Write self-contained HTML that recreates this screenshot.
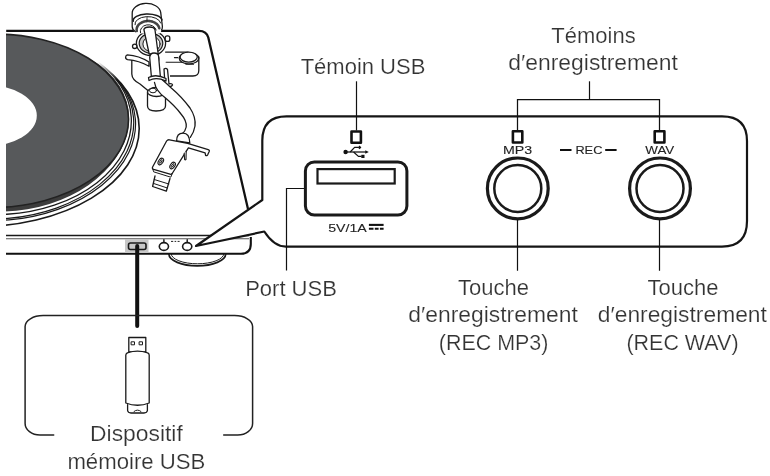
<!DOCTYPE html>
<html><head><meta charset="utf-8">
<style>
html,body{margin:0;padding:0;background:#fff;}
body{width:770px;height:476px;overflow:hidden;position:relative;}
svg{position:absolute;left:0;top:0;display:block;will-change:transform;}
text{font-family:"Liberation Sans",sans-serif;fill:#333;stroke:#fff;stroke-width:0.2px;paint-order:normal;}
text.sm{fill:#222;stroke:#222;stroke-width:0.1px;}
</style></head><body>
<svg width="770" height="476" viewBox="0 0 770 476">
<g fill="none" stroke="#1a1a1a" stroke-linecap="round" stroke-linejoin="round">

<!-- ===== Turntable ===== -->
<!-- record -->
<defs>
<linearGradient id="lg" gradientUnits="userSpaceOnUse" x1="97" y1="63" x2="116" y2="81"><stop offset="0" stop-color="#000"/><stop offset="1" stop-color="#fff"/></linearGradient>
<mask id="lm" maskUnits="userSpaceOnUse" x="0" y="0" width="260" height="260"><rect x="0" y="0" width="260" height="260" fill="url(#lg)" stroke="none"/></mask>
</defs>
<g mask="url(#lm)">
<ellipse cx="-23.83" cy="128.49" rx="163.04" ry="98.42" stroke-width="1.6"/>
<ellipse cx="1.27" cy="130.33" rx="134.57" ry="89.96" transform="rotate(-4.94 1.27 130.33)" stroke-width="1.2"/>
<ellipse cx="0.63" cy="128.58" rx="133.33" ry="90.07" transform="rotate(-4.66 0.63 128.58)" stroke-width="1.2"/>
<ellipse cx="1.65" cy="124.99" rx="129.82" ry="89.42" transform="rotate(-3.40 1.65 124.99)" stroke-width="1.3"/>
</g>
<ellipse cx="13.73" cy="127.71" rx="116.08" ry="82.76" transform="rotate(-9.53 13.73 127.71)" fill="#3c3c3c" stroke="none"/>
<ellipse cx="-6.72" cy="120.8" rx="135.25" ry="86.7" transform="rotate(-0.87 -6.72 120.8)" fill="#57595b" stroke="#222" stroke-width="1.6"/>
<ellipse cx="-15" cy="115.7" rx="51.8" ry="31" fill="#fff" stroke="none"/>
<rect x="0" y="0" width="6" height="260" fill="#fff" stroke="none"/>

<!-- plinth outline -->
<path d="M6.2 30.8 H199 Q206.5 30.8 208.3 37.5 L248 209" stroke-width="2.3" stroke="#111" stroke-linecap="butt"/>
<path d="M6 235.5 H249" stroke-width="1.3" stroke-linecap="butt"/>
<path d="M6 238.7 H249" stroke-width="1.1" stroke="#555" stroke-linecap="butt"/>
<path d="M6 253.8 H241 Q250.8 253.6 250.8 244 V237" stroke-width="2.1" stroke="#111" stroke-linecap="butt"/>

<!-- foot -->
<path d="M168.9 254 A28.4 11.8 0 0 0 225.7 254" stroke-width="1.7"/>
<path d="M171.2 254 A26.3 9.8 0 0 0 223.8 254" stroke-width="1"/>

<!-- front strip usb -->
<rect x="125" y="239" width="23.5" height="14" fill="#c8c8c8" stroke="none"/>
<rect x="128.5" y="243" width="17.5" height="6.5" rx="2" stroke-width="1.6"/>
<!-- knobs -->
<ellipse cx="163.9" cy="246.5" rx="4.6" ry="3.9" stroke-width="1.6"/>
<ellipse cx="187.2" cy="246.5" rx="4.6" ry="3.9" stroke-width="1.6"/>
<path d="M163.9 239.8 V242 M187.2 239.8 V242" stroke-width="1.4" stroke="#111"/>
<path d="M171 241.4 h2.2 M174.6 241.4 h1.6 M177.6 241.4 h2" stroke-width="1" stroke="#222" stroke-linecap="butt"/>

<!-- cable -->
<path d="M137.2 246 V326" stroke="#111" stroke-width="4"/>

<!-- ===== Tonearm ===== -->
<g stroke-width="1.3" fill="#fff">
<!-- right block with dial -->
<path d="M163 52.1 H192 Q198.8 52.1 198.8 58 V70 Q198.8 76 192.9 76 H163 Z" stroke="none"/>
<path d="M165.6 52.1 H188 M198.8 57 V70.5 Q198.8 76 192.9 76 H168" fill="none" stroke-width="1.3"/>
<path d="M166 62.2 H185.3 L186 64.3 H193.5" fill="none" stroke-width="1.1"/>
<ellipse cx="189" cy="58.3" rx="9.8" ry="5.6" stroke-width="1.3"/>
<ellipse cx="188.7" cy="57.1" rx="8.6" ry="5" stroke-width="1.2"/>
<path d="M174.4 57.6 h3.4" fill="none" stroke-width="1.1"/>
<!-- base left block -->
<path d="M131.8 60 V74 Q132 80 140 84 L148 90 V100 H165 V88 L170 80 V64 L150 58 Z" stroke="none"/>
<path d="M131.8 60 V74 Q132 80 140 84 L148.5 91" fill="none"/>
<!-- arm rest post -->
<path d="M147.5 92 V106 Q147.5 111 156 111 Q165.5 111 165.5 106 V92"/>
<ellipse cx="156.5" cy="92" rx="9" ry="4.5"/>
<ellipse cx="153" cy="90.5" rx="3.5" ry="2.3" stroke-width="1"/>
<!-- lift lever -->
<path d="M127.3 54.8 Q139 55.5 149 62 L149 66.3 Q139 60.5 127.6 59.6 Q125.4 59 125.6 57 Q126 54.8 127.3 54.8 Z" stroke-width="1.3"/>
<!-- gimbal ring -->
<ellipse cx="151" cy="43.3" rx="14.6" ry="12.3" stroke-width="1.3"/>
<ellipse cx="151" cy="43.3" rx="11.8" ry="10" stroke-width="1.2" fill="#c8c8c8"/>
<ellipse cx="151.5" cy="44" rx="8.6" ry="7.6" stroke-width="1" fill="#fff"/>
<path d="M157.9 55 Q160 59 157.9 62.7" fill="none" stroke-width="1.1"/>
<circle cx="134.7" cy="46.3" r="2.2"/>
<rect x="165.2" y="35.8" width="4.6" height="5.6" rx="2"/>
<!-- counterweight -->
<path d="M132.2 26.5 V14 Q132.8 4 146.5 4 Q160.2 4 160.7 12.4 L162.4 26.5 Q162.4 30 160 33.5 L135.5 33.5 Q132.2 30 132.2 26.5 Z" stroke="none"/>
<path d="M135.5 31.8 Q132.2 30 132.2 26.5 V14 A14.3 10 0 0 1 160.7 12.4 L162.4 26.5 Q162.4 29 161.5 30" fill="none" stroke-width="1.3"/>
<path d="M133.3 21.2 A14.4 6.5 0 0 1 162 19.9" fill="none" stroke-width="1.5"/>
<path d="M135 24.7 A12.9 7.2 0 0 1 160.7 23" fill="none" stroke-width="1"/>
<path d="M136.8 31 A11.3 8.5 0 0 1 159.3 28.2" fill="none" stroke-width="2.6" stroke="#444" stroke-dasharray="0.7 0.6"/>
<path d="M140.4 32.7 A8 6.5 0 0 1 156.2 30" fill="none" stroke-width="1"/>
<path d="M147 17 V21" fill="none" stroke-width="0.8"/>
<!-- tube rear -->
<path d="M143.9 29.5 Q144.5 27 149.5 27 Q154.5 27 155 30 L158.2 54 H149.2 Z"/>
<!-- tube front segment -->
<path d="M149.7 57.5 Q150 53 154 53 Q158.4 53 158.6 56.5 L160.5 78 H151.5 Z"/>
<!-- clip -->
<path d="M164 69 Q166 67.5 167.5 69.5 L169 84 Q172 83 172.5 85 Q172 87 168 86.5 L165 85 Z"/>
<!-- tube bend to headshell -->
<path d="M154.5 82.5 Q156 91 165.2 97.8 Q175 106 181 114 Q187 121 186.2 127 Q185.5 132 179.4 135.3 L190.3 137.3 Q194 132.5 195 126 Q196 117 190 108 Q182 97 171 87.7 Q166 83 161.4 79 Z" stroke="none"/>
<path d="M154.5 82.5 Q156 91 165.2 97.8 Q175 106 181 114 Q187 121 186.2 127 Q185.5 131 182 134" fill="none"/>
<path d="M161.4 79 Q166 83 171 87.7 Q182 97 190 108 Q196 117 195 126 Q194 132.5 190.3 137.3" fill="none"/>
<!-- clip band -->
<path d="M148.5 77.5 Q156 73.5 166 78.5 L166 81 Q156 76.5 149 80.5 Z"/>
<!-- ferrule -->
<path d="M176.6 141 Q176.6 133.2 183 133.2 Q189.6 133.2 189.8 143 Z"/>
<!-- headshell -->
<path d="M169.5 139.8 L187.6 143.4 L208.2 149.6 Q209.8 150.2 209.2 151.6 L207.8 154.6 Q207 156.2 205.6 155.4 L205.1 152.8 L188.4 147.8 L172.2 173.5 Q171.3 174.6 170 174.2 L153.6 169.4 Q151.8 168.6 152.6 167 L166.6 141 Q167.6 139.5 169.5 139.8 Z"/>
<path d="M184.2 153.4 L184.6 159.4 Q185.3 160.4 186 159.4 L186.2 151" stroke-width="1.1"/>
<path d="M152.8 169 L153.6 171.8 L170.8 177.2 L172.2 173.5" fill="none" stroke-width="1"/>
<ellipse cx="160.8" cy="161.5" rx="2.2" ry="3.6" transform="rotate(35 160.8 161.5)" stroke-width="1.1"/>
<ellipse cx="160.8" cy="161.5" rx="0.8" ry="2.2" transform="rotate(35 160.8 161.5)" stroke-width="0.9"/>
<ellipse cx="172.6" cy="165.5" rx="2.2" ry="3.6" transform="rotate(35 172.6 165.5)" stroke-width="1.1"/>
<ellipse cx="172.6" cy="165.5" rx="0.8" ry="2.2" transform="rotate(35 172.6 165.5)" stroke-width="0.9"/>
<!-- cartridge -->
<path d="M155 176 L152.6 186.5 L166.3 191.2 L170 178.5"/>
<path d="M154.2 179.5 L168.8 184 M153.4 183.4 L167.3 188" fill="none" stroke-width="1"/>
</g>

<!-- ===== Panel ===== -->
<path d="M262.3 200 V140.5 Q262.3 116.3 286.5 116.3 H722 Q747 116.3 747 141 V221 Q747 246.6 722 246.6 H286 Q274 246.6 264.3 231.5 L196 246 L262.3 200" stroke-width="2.2" stroke="#151515" fill="#fff"/>

<!-- USB LED -->
<path d="M356.5 81.3 V130.5" stroke-width="1.2" stroke="#111" stroke-linecap="butt"/>
<rect x="351.5" y="131.5" width="9.4" height="11.2" stroke-width="2.6" stroke="#111"/>
<!-- usb icon -->
<g stroke-width="1.25" stroke="#111" stroke-linecap="butt">
<path d="M346 152 H366"/>
<path d="M350.2 152 L354.6 147.4 H358.5"/>
<path d="M353.6 152 L358.4 156.4 H361.5"/>
</g>
<g fill="#111" stroke="none">
<circle cx="345.6" cy="152" r="2.2"/>
<path d="M359.6 145.6 L361.4 147.4 L359.6 149.2 L357.8 147.4 Z"/>
<rect x="361.3" y="154.8" width="3.2" height="3.2"/>
<path d="M365.3 150.2 L368.8 152 L365.3 153.8 Z"/>
</g>

<!-- USB port -->
<rect x="305.4" y="161.9" width="101.5" height="53.1" rx="9" stroke-width="3"/>
<rect x="317.5" y="169.1" width="77.2" height="14.4" stroke-width="2.2" stroke-linejoin="miter"/>
<!-- DC sign -->
<path d="M368.9 224.9 H383.6" stroke-width="2.1" stroke="#111" stroke-linecap="butt"/>
<path d="M368.9 228.7 H373.5 M374.8 228.7 H378.6 M379.9 228.7 H383.6" stroke-width="2.1" stroke="#111" stroke-linecap="butt"/>

<!-- Port USB leader -->
<path d="M304 188.5 H286.5 V270.5" stroke-width="1.2" stroke="#111" stroke-linecap="butt" stroke-linejoin="miter"/>

<!-- REC bracket -->
<path d="M589.5 81.3 V99.5" stroke-width="1.2" stroke="#111" stroke-linecap="butt"/>
<path d="M517.5 131 V99.5 H659.5 V131" stroke-width="1.25" stroke="#111" stroke-linecap="butt" stroke-linejoin="miter"/>
<rect x="512.9" y="131.3" width="9.4" height="11.15" stroke-width="2.6" stroke="#111"/>
<rect x="654.7" y="131.3" width="9.7" height="11.15" stroke-width="2.6" stroke="#111"/>

<!-- REC dashes -->
<path d="M560 150 H571.5 M605.2 150 H616.6" stroke-width="2" stroke="#111" stroke-linecap="butt"/>

<!-- buttons -->
<circle cx="517.8" cy="188.4" r="30.4" stroke-width="3.2"/>
<circle cx="517.8" cy="188.4" r="23.5" stroke-width="2.5"/>
<circle cx="660" cy="188.4" r="30.4" stroke-width="3.2"/>
<circle cx="660" cy="188.4" r="23.5" stroke-width="2.5"/>
<path d="M517.5 219.5 V270.7 M659.5 219.5 V270.7" stroke-width="1.2" stroke="#111" stroke-linecap="butt"/>

<!-- ===== USB drive box ===== -->
<path d="M53.7 435.1 H40 A14.9 11.6 0 0 1 25.1 423.5 V326.6 A18 11 0 0 1 43.1 315.6 H234.6 A18 11 0 0 1 252.6 326.6 V423.5 A14.9 11.6 0 0 1 237.7 435.1 H223.7" stroke-width="1.5" stroke="#222"/>
<!-- usb stick -->
<rect x="128.8" y="337.5" width="17" height="14.5" stroke-width="1.3"/>
<rect x="131.5" y="341.8" width="3" height="3" stroke-width="1"/>
<rect x="139.5" y="341.8" width="3" height="3" stroke-width="1"/>
<path d="M125.8 355 Q126 353.2 128 352.6 Q137.5 349.6 147 352.6 Q149.2 353.2 149.2 355 V403 Q137.5 407.5 125.8 403 Z" stroke-width="1.3" fill="#fff"/>
<path d="M127.6 404.6 V410.5 Q128 413 131 413 H144 Q147 413 147.4 410.5 V404.6" stroke-width="1.3"/>
<path d="M134 411.5 Q137.5 408.5 141 411.5" stroke-width="1"/>

</g>

<!-- ===== Texts ===== -->
<g font-size="22">
<text x="363" y="73.5" text-anchor="middle">Témoin USB</text>
<text x="593.5" y="43" text-anchor="middle">Témoins</text>
<text x="593.1" y="70.3" text-anchor="middle" textLength="169.7" lengthAdjust="spacingAndGlyphs">d′enregistrement</text>
<text x="291" y="295.5" text-anchor="middle">Port USB</text>
<text x="493.6" y="295" text-anchor="middle">Touche</text>
<text x="493" y="322" text-anchor="middle" textLength="169.5" lengthAdjust="spacingAndGlyphs">d′enregistrement</text>
<text x="493.6" y="349.5" text-anchor="middle" textLength="109.7" lengthAdjust="spacingAndGlyphs">(REC MP3)</text>
<text x="683" y="295" text-anchor="middle">Touche</text>
<text x="682.3" y="322" text-anchor="middle" textLength="169.1" lengthAdjust="spacingAndGlyphs">d′enregistrement</text>
<text x="682.5" y="349.5" text-anchor="middle" textLength="112.1" lengthAdjust="spacingAndGlyphs">(REC WAV)</text>
<text x="136.4" y="440.8" text-anchor="middle" textLength="92.7" lengthAdjust="spacingAndGlyphs">Dispositif</text>
<text x="136.4" y="468.8" text-anchor="middle" textLength="138" lengthAdjust="spacingAndGlyphs">mémoire USB</text>
</g>
<g font-size="11.8">
<text class="sm" x="517.5" y="154.4" text-anchor="middle" textLength="29.2" lengthAdjust="spacingAndGlyphs">MP3</text>
<text class="sm" x="659.8" y="154.2" text-anchor="middle" textLength="29" lengthAdjust="spacingAndGlyphs">WAV</text>
<text class="sm" x="588.9" y="154.3" text-anchor="middle" textLength="27" lengthAdjust="spacingAndGlyphs">REC</text>
<text class="sm" x="347.5" y="231.7" text-anchor="middle" textLength="38.7" lengthAdjust="spacingAndGlyphs">5V/1A</text>
</g>
</svg>
</body></html>
